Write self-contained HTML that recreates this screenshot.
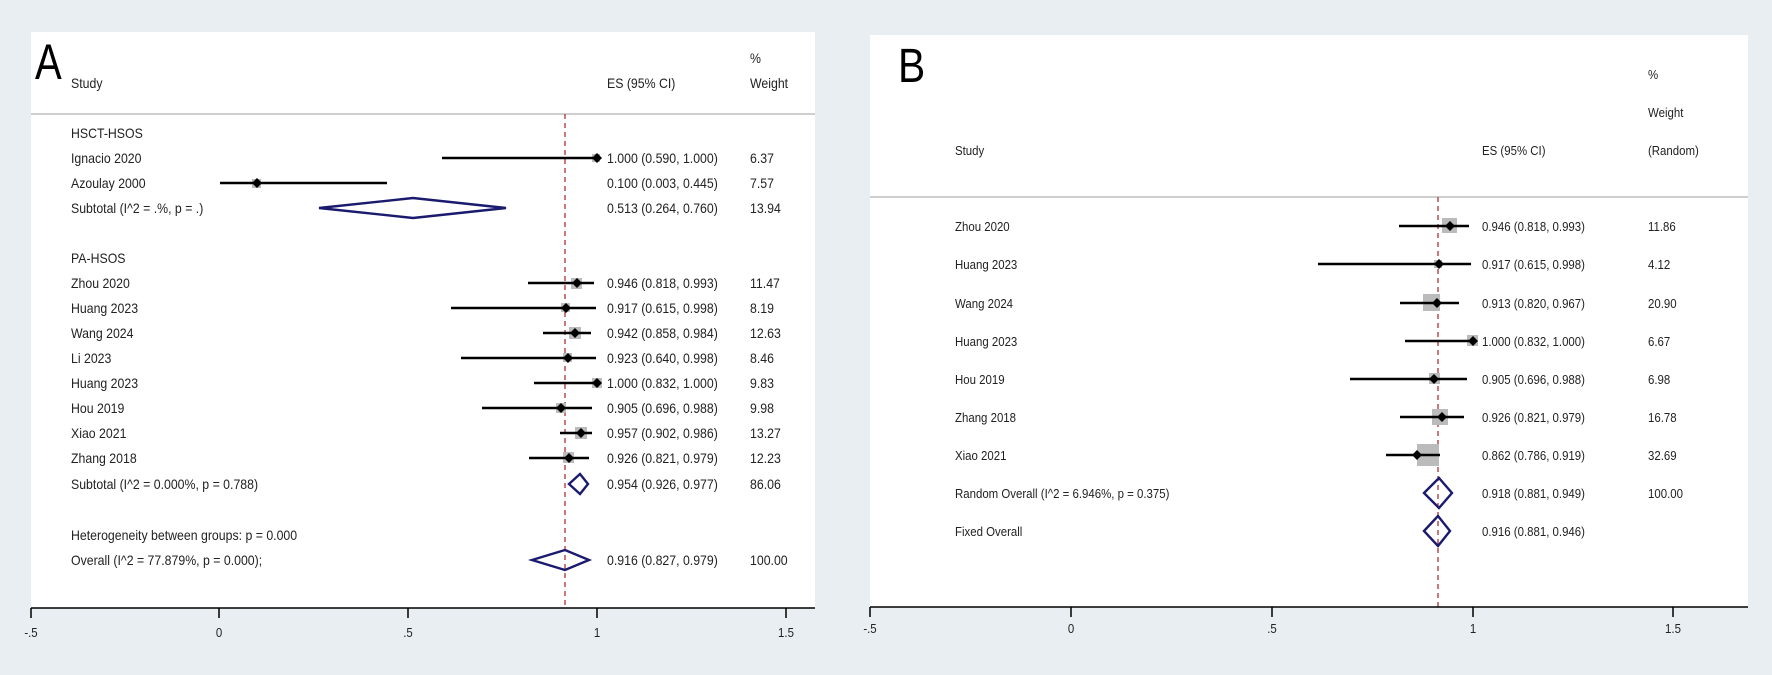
<!DOCTYPE html>
<html><head><meta charset="utf-8"><style>
html,body{margin:0;padding:0;background:#e8eef1;}
svg{display:block;}
text{font-family:"Liberation Sans",sans-serif;fill:#222;}
</style></head><body>
<svg width="1772" height="675" viewBox="0 0 1772 675" xmlns="http://www.w3.org/2000/svg">
<rect width="1772" height="675" fill="#e8eef1"/>
<!-- Panel A -->
<rect x="31" y="32" width="784" height="576" fill="#fff"/>
<line x1="31" y1="114" x2="815" y2="114" stroke="#cfcfcf" stroke-width="2"/>
<text transform="translate(35,79) scale(0.8,1)" font-size="50" style="fill:#000">A</text>
<g font-size="14">
<text transform="translate(71,88) scale(0.88,1)">Study</text>
<text transform="translate(607,88) scale(0.88,1)">ES (95% CI)</text>
<text transform="translate(750,63) scale(0.88,1)">%</text>
<text transform="translate(750,88) scale(0.88,1)">Weight</text>
</g>
<line x1="565" y1="114" x2="565" y2="608" stroke="#a33" stroke-width="1.3" stroke-dasharray="5,4"/>
<line x1="31" y1="608" x2="815" y2="608" stroke="#000" stroke-width="1.5"/>
<g stroke="#000" stroke-width="1.5">
<line x1="31" y1="608" x2="31" y2="618"/><line x1="219" y1="608" x2="219" y2="618"/><line x1="408" y1="608" x2="408" y2="618"/><line x1="597" y1="608" x2="597" y2="618"/><line x1="786" y1="608" x2="786" y2="618"/>
</g>
<g font-size="13" text-anchor="middle">
<text transform="translate(31,637) scale(0.88,1)">-.5</text>
<text transform="translate(219,637) scale(0.88,1)">0</text>
<text transform="translate(408,637) scale(0.88,1)">.5</text>
<text transform="translate(597,637) scale(0.88,1)">1</text>
<text transform="translate(786,637) scale(0.88,1)">1.5</text>
</g>
<g font-size="14">
<text transform="translate(71,138) scale(0.88,1)">HSCT-HSOS</text>
<text transform="translate(71,163) scale(0.88,1)">Ignacio 2020</text>
<text transform="translate(71,188) scale(0.88,1)">Azoulay 2000</text>
<text transform="translate(71,213) scale(0.88,1)">Subtotal  (I^2 = .%, p = .)</text>
<text transform="translate(71,263) scale(0.88,1)">PA-HSOS</text>
<text transform="translate(71,288) scale(0.88,1)">Zhou 2020</text>
<text transform="translate(71,313) scale(0.88,1)">Huang 2023</text>
<text transform="translate(71,338) scale(0.88,1)">Wang 2024</text>
<text transform="translate(71,363) scale(0.88,1)">Li 2023</text>
<text transform="translate(71,388) scale(0.88,1)">Huang 2023</text>
<text transform="translate(71,413) scale(0.88,1)">Hou 2019</text>
<text transform="translate(71,438) scale(0.88,1)">Xiao 2021</text>
<text transform="translate(71,463) scale(0.88,1)">Zhang 2018</text>
<text transform="translate(71,489) scale(0.88,1)">Subtotal  (I^2 = 0.000%, p = 0.788)</text>
<text transform="translate(71,540) scale(0.88,1)">Heterogeneity between groups: p = 0.000</text>
<text transform="translate(71,565) scale(0.88,1)">Overall  (I^2 = 77.879%, p = 0.000);</text>

<text transform="translate(607,163) scale(0.88,1)">1.000 (0.590, 1.000)</text><text transform="translate(750,163) scale(0.88,1)">6.37</text>
<text transform="translate(607,188) scale(0.88,1)">0.100 (0.003, 0.445)</text><text transform="translate(750,188) scale(0.88,1)">7.57</text>
<text transform="translate(607,213) scale(0.88,1)">0.513 (0.264, 0.760)</text><text transform="translate(750,213) scale(0.88,1)">13.94</text>
<text transform="translate(607,288) scale(0.88,1)">0.946 (0.818, 0.993)</text><text transform="translate(750,288) scale(0.88,1)">11.47</text>
<text transform="translate(607,313) scale(0.88,1)">0.917 (0.615, 0.998)</text><text transform="translate(750,313) scale(0.88,1)">8.19</text>
<text transform="translate(607,338) scale(0.88,1)">0.942 (0.858, 0.984)</text><text transform="translate(750,338) scale(0.88,1)">12.63</text>
<text transform="translate(607,363) scale(0.88,1)">0.923 (0.640, 0.998)</text><text transform="translate(750,363) scale(0.88,1)">8.46</text>
<text transform="translate(607,388) scale(0.88,1)">1.000 (0.832, 1.000)</text><text transform="translate(750,388) scale(0.88,1)">9.83</text>
<text transform="translate(607,413) scale(0.88,1)">0.905 (0.696, 0.988)</text><text transform="translate(750,413) scale(0.88,1)">9.98</text>
<text transform="translate(607,438) scale(0.88,1)">0.957 (0.902, 0.986)</text><text transform="translate(750,438) scale(0.88,1)">13.27</text>
<text transform="translate(607,463) scale(0.88,1)">0.926 (0.821, 0.979)</text><text transform="translate(750,463) scale(0.88,1)">12.23</text>
<text transform="translate(607,489) scale(0.88,1)">0.954 (0.926, 0.977)</text><text transform="translate(750,489) scale(0.88,1)">86.06</text>
<text transform="translate(607,565) scale(0.88,1)">0.916 (0.827, 0.979)</text><text transform="translate(750,565) scale(0.88,1)">100.00</text>
</g>
<g fill="#bbb">
<rect x="592" y="154" width="8" height="8"/>
<rect x="252" y="179" width="9" height="9"/>
<rect x="571" y="278" width="11" height="11"/>
<rect x="561" y="303" width="9" height="9"/>
<rect x="569" y="327" width="12" height="12"/>
<rect x="563" y="353" width="9" height="9"/>
<rect x="592" y="378" width="10" height="10"/>
<rect x="556" y="403" width="10" height="10"/>
<rect x="575" y="427" width="12" height="12"/>
<rect x="563" y="452" width="11" height="11"/>
</g>
<g stroke="#000" stroke-width="2.6">
<line x1="442" y1="158" x2="597" y2="158"/>
<line x1="220" y1="183" x2="387" y2="183"/>
<line x1="528" y1="283" x2="594" y2="283"/>
<line x1="451" y1="308" x2="596" y2="308"/>
<line x1="543" y1="333" x2="591" y2="333"/>
<line x1="461" y1="358" x2="596" y2="358"/>
<line x1="534" y1="383" x2="597" y2="383"/>
<line x1="482" y1="408" x2="592" y2="408"/>
<line x1="560" y1="433" x2="592" y2="433"/>
<line x1="529" y1="458" x2="589" y2="458"/>
</g>
<g fill="#000">
<path d="M597 153l5 5-5 5-5-5z"/><path d="M257 178l5 5-5 5-5-5z"/>
<path d="M577 278l5 5-5 5-5-5z"/><path d="M566 303l5 5-5 5-5-5z"/>
<path d="M575 328l5 5-5 5-5-5z"/><path d="M568 353l5 5-5 5-5-5z"/>
<path d="M597 378l5 5-5 5-5-5z"/><path d="M561 403l5 5-5 5-5-5z"/>
<path d="M581 428l5 5-5 5-5-5z"/><path d="M569 453l5 5-5 5-5-5z"/>
</g>
<g fill="none" stroke="#1a1a6e" stroke-width="2.4">
<path d="M319 208L413 198L506 208L413 218Z"/>
<path d="M569 484L580 474L588 484L580 494Z"/>
<path d="M532 560L565 550L589 560L565 570Z"/>
</g>

<!-- Panel B -->
<rect x="870" y="35" width="878" height="572" fill="#fff"/>
<line x1="870" y1="197" x2="1748" y2="197" stroke="#cfcfcf" stroke-width="2"/>
<text transform="translate(898,82) scale(0.85,1)" font-size="48" style="fill:#000">B</text>
<g font-size="13">
<text transform="translate(1648,79) scale(0.88,1)">%</text>
<text transform="translate(1648,117) scale(0.88,1)">Weight</text>
<text transform="translate(955,155) scale(0.88,1)">Study</text>
<text transform="translate(1482,155) scale(0.88,1)">ES (95% CI)</text>
<text transform="translate(1648,155) scale(0.88,1)">(Random)</text>
</g>
<line x1="1438" y1="197" x2="1438" y2="607" stroke="#a33" stroke-width="1.3" stroke-dasharray="5,4"/>
<line x1="870" y1="607" x2="1748" y2="607" stroke="#000" stroke-width="1.5"/>
<g stroke="#000" stroke-width="1.5">
<line x1="870" y1="607" x2="870" y2="617"/><line x1="1071" y1="607" x2="1071" y2="617"/><line x1="1272" y1="607" x2="1272" y2="617"/><line x1="1473" y1="607" x2="1473" y2="617"/><line x1="1673" y1="607" x2="1673" y2="617"/>
</g>
<g font-size="13" text-anchor="middle">
<text transform="translate(870,633) scale(0.88,1)">-.5</text>
<text transform="translate(1071,633) scale(0.88,1)">0</text>
<text transform="translate(1272,633) scale(0.88,1)">.5</text>
<text transform="translate(1473,633) scale(0.88,1)">1</text>
<text transform="translate(1673,633) scale(0.88,1)">1.5</text>
</g>
<g font-size="13">
<text transform="translate(955,231) scale(0.88,1)">Zhou 2020</text>
<text transform="translate(955,269) scale(0.88,1)">Huang 2023</text>
<text transform="translate(955,308) scale(0.88,1)">Wang 2024</text>
<text transform="translate(955,346) scale(0.88,1)">Huang 2023</text>
<text transform="translate(955,384) scale(0.88,1)">Hou 2019</text>
<text transform="translate(955,422) scale(0.88,1)">Zhang 2018</text>
<text transform="translate(955,460) scale(0.88,1)">Xiao 2021</text>
<text transform="translate(955,498) scale(0.88,1)">Random Overall  (I^2 = 6.946%, p = 0.375)</text>
<text transform="translate(955,536) scale(0.88,1)">Fixed Overall</text>

<text transform="translate(1482,231) scale(0.88,1)">0.946 (0.818, 0.993)</text><text transform="translate(1648,231) scale(0.88,1)">11.86</text>
<text transform="translate(1482,269) scale(0.88,1)">0.917 (0.615, 0.998)</text><text transform="translate(1648,269) scale(0.88,1)">4.12</text>
<text transform="translate(1482,308) scale(0.88,1)">0.913 (0.820, 0.967)</text><text transform="translate(1648,308) scale(0.88,1)">20.90</text>
<text transform="translate(1482,346) scale(0.88,1)">1.000 (0.832, 1.000)</text><text transform="translate(1648,346) scale(0.88,1)">6.67</text>
<text transform="translate(1482,384) scale(0.88,1)">0.905 (0.696, 0.988)</text><text transform="translate(1648,384) scale(0.88,1)">6.98</text>
<text transform="translate(1482,422) scale(0.88,1)">0.926 (0.821, 0.979)</text><text transform="translate(1648,422) scale(0.88,1)">16.78</text>
<text transform="translate(1482,460) scale(0.88,1)">0.862 (0.786, 0.919)</text><text transform="translate(1648,460) scale(0.88,1)">32.69</text>
<text transform="translate(1482,498) scale(0.88,1)">0.918 (0.881, 0.949)</text><text transform="translate(1648,498) scale(0.88,1)">100.00</text>
<text transform="translate(1482,536) scale(0.88,1)">0.916 (0.881, 0.946)</text>
</g>
<g fill="#bbb">
<rect x="1442" y="218" width="15" height="15"/>
<rect x="1434" y="260" width="8" height="8"/>
<rect x="1423" y="294" width="17" height="17"/>
<rect x="1467" y="335" width="11" height="11"/>
<rect x="1429" y="373" width="11" height="11"/>
<rect x="1432" y="409" width="16" height="16"/>
<rect x="1417" y="444" width="22" height="22"/>
</g>
<g stroke="#000" stroke-width="2.6">
<line x1="1399" y1="226" x2="1469" y2="226"/>
<line x1="1318" y1="264" x2="1471" y2="264"/>
<line x1="1400" y1="303" x2="1459" y2="303"/>
<line x1="1405" y1="341" x2="1473" y2="341"/>
<line x1="1350" y1="379" x2="1467" y2="379"/>
<line x1="1400" y1="417" x2="1464" y2="417"/>
<line x1="1386" y1="455" x2="1440" y2="455"/>
</g>
<g fill="#000">
<path d="M1450 221l5 5-5 5-5-5z"/><path d="M1439 259l5 5-5 5-5-5z"/>
<path d="M1437 298l5 5-5 5-5-5z"/><path d="M1473 336l5 5-5 5-5-5z"/>
<path d="M1434 374l5 5-5 5-5-5z"/><path d="M1442 412l5 5-5 5-5-5z"/>
<path d="M1417 450l5 5-5 5-5-5z"/>
</g>
<g fill="none" stroke="#1a1a6e" stroke-width="2.4">
<path d="M1424 493L1439 478L1452 493L1439 508Z"/>
<path d="M1424 531L1438 516L1450 531L1438 546Z"/>
</g>
</svg>
</body></html>
